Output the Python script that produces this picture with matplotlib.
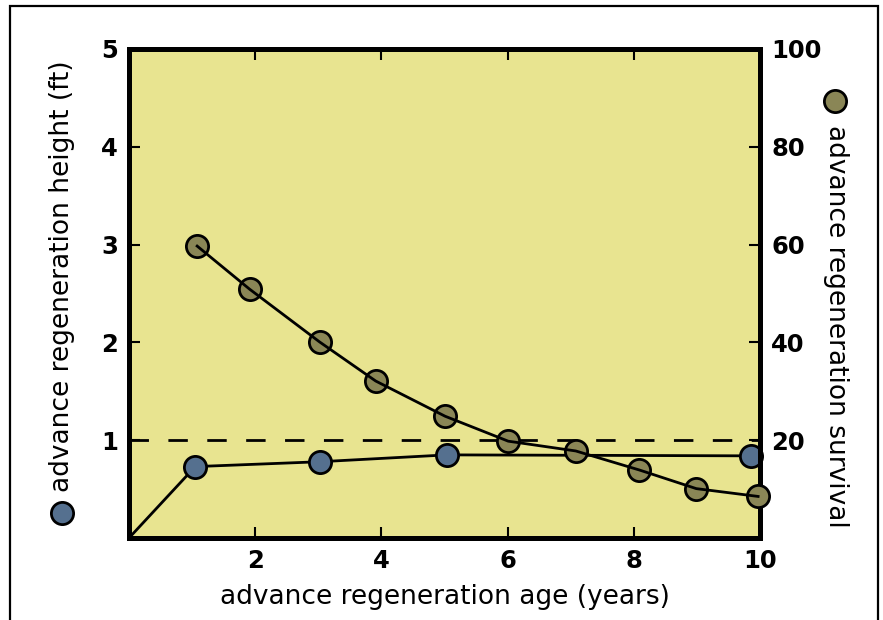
"""Advance regeneration height and survival vs age."""

import matplotlib
matplotlib.use("Agg")
import matplotlib.pyplot as plt
from matplotlib.lines import Line2D
from matplotlib.patches import Rectangle

# height (ft), left axis
height_age = [0, 1.05, 3.03, 5.04, 9.85]
height_ft = [0, 0.73, 0.78, 0.85, 0.84]

# survival, right axis
survival_age = [1.08, 1.91, 3.02, 3.91, 5.01, 6.01, 7.08, 8.09, 8.99, 9.97]
survival_pct = [59.7, 50.9, 40.1, 32.1, 24.9, 19.8, 17.8, 13.9, 10.1, 8.5]

x_ticks = [2, 4, 6, 8, 10]
left_ticks = [1, 2, 3, 4, 5]
right_ticks = [20, 40, 60, 80, 100]
ref_height = 1

BG = "#E8E490"
BLUE = "#55708F"
OLIVE = "#8A8656"

plt.rcParams["font.family"] = ["DejaVu Sans"]

fig = plt.figure(figsize=(8.83, 6.2), dpi=100)
fig.patches.append(Rectangle((10 / 883, -0.1), 868 / 883, 1.1 - 6 / 620,
                             transform=fig.transFigure, fill=False,
                             edgecolor="black", linewidth=1.6))

ax = fig.add_axes([129 / 883, 82 / 620, 631 / 883, 489 / 620])
ax.set_facecolor(BG)
ax2 = ax.twinx()

ax.axhline(ref_height, color="black", lw=2, ls=(0, (7, 7)), zorder=2)

# height series: markers on top of the line
ax.plot(height_age, height_ft, color="black", lw=2, zorder=3,
        clip_on=False)
ax.plot(height_age[1:], height_ft[1:], ls="none", marker="o", ms=16,
        mfc=BLUE, mec="black", mew=2, zorder=4, clip_on=False)

# survival series: line drawn over the markers
ax2.plot(survival_age, survival_pct, ls="none", marker="o", ms=16,
         mfc=OLIVE, mec="black", mew=2, zorder=3, clip_on=False)
ax2.plot(survival_age, survival_pct, color="black", lw=2, zorder=4,
         clip_on=False)

ax.set_xlim(0, 10)
ax.set_ylim(0, 5)
ax2.set_ylim(0, 100)
ax.set_xticks(x_ticks)
ax.set_yticks(left_ticks)
ax2.set_yticks(right_ticks)

for a in (ax, ax2):
    for sp in a.spines.values():
        sp.set_linewidth(3.6)
    a.tick_params(direction="in", length=8, width=1.5, labelsize=17.5, pad=8)
    for lab in a.get_xticklabels() + a.get_yticklabels():
        lab.set_fontweight("bold")
ax.tick_params(top=True, bottom=True)
ax2.tick_params(right=True)

ax.set_xlabel("advance regeneration age (years)", fontsize=19, labelpad=8)

# y-axis labels with series markers
fig.text(62 / 883, 1 - 276 / 620, "advance regeneration height (ft)",
         rotation=90, ha="center", va="center", fontsize=19)
fig.add_artist(Line2D([62 / 883], [1 - 513 / 620], marker="o", ms=16,
                      mfc=BLUE, mec="black", mew=2,
                      transform=fig.transFigure))
fig.text(836 / 883, 1 - 326 / 620, "advance regeneration survival",
         rotation=-90, ha="center", va="center", fontsize=19)
fig.add_artist(Line2D([835 / 883], [1 - 101 / 620], marker="o", ms=16,
                      mfc=OLIVE, mec="black", mew=2,
                      transform=fig.transFigure))

fig.savefig("out.png", dpi=100, facecolor="white")
